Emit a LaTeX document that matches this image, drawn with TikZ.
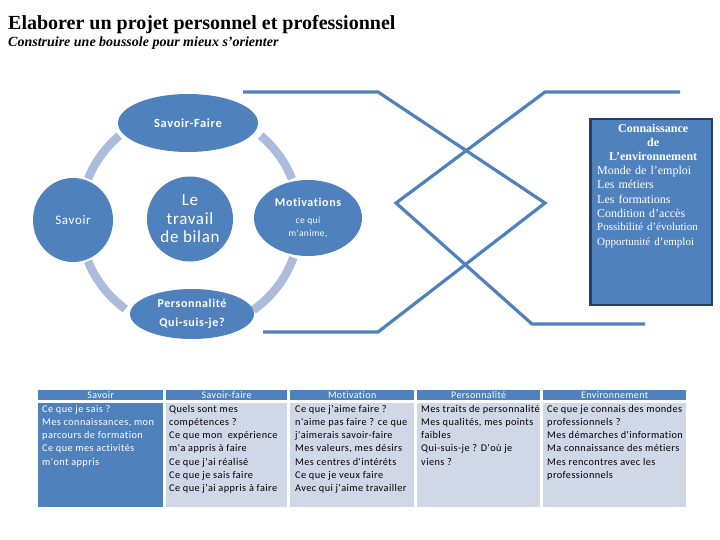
\documentclass[tikz,border=0pt]{standalone}
\usepackage{fontspec}
\setmainfont{Liberation Serif}
\newfontfamily\calf[LetterSpace=4,Ligatures={NoCommon}]{Carlito}
\newfontfamily\calfb[LetterSpace=5,Ligatures={NoCommon}]{Carlito}
\usetikzlibrary{shapes.geometric}
\definecolor{blu}{RGB}{79,129,189}
\definecolor{arcc}{RGB}{172,188,220}
\definecolor{lite}{RGB}{208,216,232}
\definecolor{navy}{RGB}{36,63,96}
\begin{document}
\begin{tikzpicture}[x=1pt,y=1pt,
  bubble/.style={ellipse, fill=blu, text=white, inner sep=0pt, align=center},
  ring/.style={arcc, line width=8.5pt},
  xline/.style={blu, line width=3.2pt},
  hdr/.style={fill=blu, text=white, minimum height=10pt, inner sep=0pt, anchor=north west, font=\calf\fontsize{10}{12}\selectfont},
  bodydark/.style={fill=blu, minimum height=104pt, inner sep=0pt, anchor=north west},
  bodylite/.style={fill=lite, minimum height=104pt, inner sep=0pt, anchor=north west},
  celltxt/.style={anchor=north west, inner sep=0pt, align=left, font=\calf\fontsize{10.3}{13.2}\selectfont},
  envbox/.style={fill=blu, draw=navy, line width=2.5pt, inner sep=0pt}
]
\useasboundingbox (0,0) rectangle (720,-540);

% title
\node[anchor=base west, inner sep=0pt, font=\bfseries\fontsize{20}{22}\selectfont] (title) at (8,-30) {Elaborer un projet personnel et professionnel};
\node[anchor=base west, inner sep=0pt, font=\bfseries\itshape\fontsize{14}{16}\selectfont] (subtitle) at (8,-47) {Construire une boussole pour mieux s'orienter};

% ring arcs
\coordinate (rc) at (190,-220);
\draw[ring] (rc) ++(158:110) arc[start angle=158, end angle=130, radius=110];
\draw[ring] (rc) ++(50:110) arc[start angle=50, end angle=22, radius=110];
\draw[ring] (rc) ++(-20:110) arc[start angle=-20, end angle=-55, radius=110];
\draw[ring] (rc) ++(202:110) arc[start angle=202, end angle=234, radius=110];

% bubbles
\node[bubble, minimum width=140pt, minimum height=58pt, font=\calfb\bfseries\fontsize{12.5}{14}\selectfont] (sf) at (188,-123) {Savoir-Faire};
\node[bubble, minimum width=80pt, minimum height=84pt, font=\calfb\fontsize{13}{15}\selectfont] (sav) at (73,-220) {Savoir};
\node[bubble, minimum width=86pt, minimum height=85pt, font=\calf\fontsize{17}{18.5}\selectfont] (bilan) at (190,-219) {Le\\travail\\de bilan};
\node[bubble, minimum width=108pt, minimum height=76pt] (mot) at (308,-218) {};
\node[text=white, font=\calfb\bfseries\fontsize{12}{14}\selectfont, inner sep=0pt] (motl) at (308,-202) {Motivations};
\node[text=white, font=\calf\fontsize{9.5}{12.5}\selectfont, inner sep=0pt, align=center] (motd) at (308,-227.5) {ce qui\\m'anime,};
\node[bubble, minimum width=124pt, minimum height=50pt] (pers) at (192,-314) {};
\node[text=white, font=\calfb\bfseries\fontsize{12}{14}\selectfont, inner sep=0pt] (persl) at (192,-303) {Personnalité};
\node[text=white, font=\calfb\bfseries\fontsize{12}{14}\selectfont, inner sep=0pt] (persq) at (192,-323) {Qui-suis-je?};

% crossing lines
\coordinate (a1) at (243,-92);
\coordinate (a2) at (378,-92);
\coordinate (a3) at (545,-203);
\coordinate (a4) at (378,-332);
\coordinate (a5) at (263,-332);
\coordinate (b1) at (680,-92);
\coordinate (b2) at (545,-92);
\coordinate (b3) at (396,-203);
\coordinate (b4) at (532,-324);
\coordinate (b5) at (645,-324);
\draw[xline] (a1) -- (a2) -- (a3) -- (a4) -- (a5);
\draw[xline] (b1) -- (b2) -- (b3) -- (b4) -- (b5);

% environment box
\node[envbox, minimum width=121.5pt, minimum height=185.5pt] (env) at (651,-212) {};
\node[anchor=north west, inner sep=0pt, text width=112pt, text=white, font=\fontsize{12}{14.2}\selectfont] (envt) at (597,-123.5) {%
  {\centering\bfseries Connaissance\\de\\L'environnement\par}%
  Monde de l'emploi\\Les métiers\\Les formations\\Condition d'accès\\
  {\fontsize{11}{13.6}\selectfont Possibilité d'évolution\\Opportunité d'emploi}};

% table headers
\node[hdr, minimum width=125pt] (h1) at (38,-390) {Savoir};
\node[hdr, minimum width=121pt] (h2) at (166,-390) {Savoir-faire};
\node[hdr, minimum width=124pt] (h3) at (290,-390) {Motivation};
\node[hdr, minimum width=123pt] (h4) at (417,-390) {Personnalité};
\node[hdr, minimum width=143pt] (h5) at (543,-390) {Environnement};
% table bodies
\node[bodydark, minimum width=125pt] (c1) at (38,-403) {};
\node[bodylite, minimum width=121pt] (c2) at (166,-403) {};
\node[bodylite, minimum width=124pt] (c3) at (290,-403) {};
\node[bodylite, minimum width=123pt] (c4) at (417,-403) {};
\node[bodylite, minimum width=143pt] (c5) at (543,-403) {};
% table texts
\node[celltxt, text=white] (t1) at (42,-405) {Ce que je sais ?\\Mes connaissances, mon\\parcours de formation\\Ce que mes activités\\m'ont appris};
\node[celltxt] (t2) at (169,-405) {Quels sont mes\\compétences ?\\Ce que mon\ \ expérience\\m'a appris à faire\\Ce que j'ai réalisé\\Ce que je sais faire\\Ce que j'ai appris à faire};
\node[celltxt] (t3) at (295,-405) {Ce que j'aime faire ?\\n'aime pas faire ? ce que\\j'aimerais savoir-faire\\Mes valeurs, mes désirs\\Mes centres d'intéréts\\Ce que je veux faire\\Avec qui j'aime travailler};
\node[celltxt] (t4) at (421,-405) {Mes traits de personnalité\\Mes qualités, mes points\\faibles\\Qui-suis-je ? D'où je\\viens ?};
\node[celltxt] (t5) at (547,-405) {Ce que je connais des mondes\\professionnels ?\\Mes démarches d'information\\Ma connaissance des métiers\\Mes rencontres avec les\\professionnels};
\end{tikzpicture}
\end{document}
